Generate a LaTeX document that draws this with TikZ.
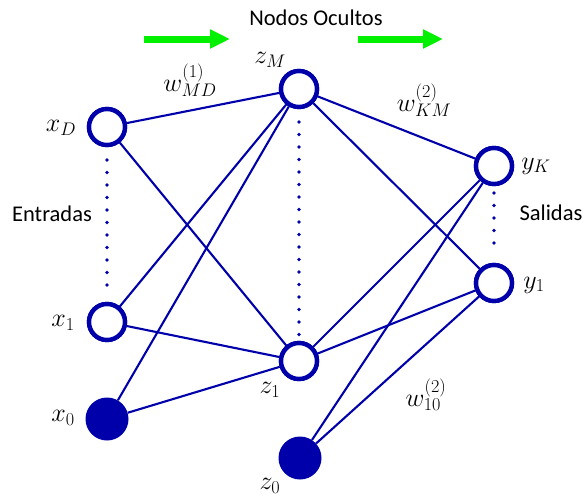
\documentclass[tikz,border=0pt]{standalone}
\usepackage{fix-cm}
\usepackage{fontspec}
\newfontfamily\carl{Carlito}
\usetikzlibrary{arrows.meta}
\definecolor{nblue}{RGB}{0,0,170}
\definecolor{ngreen}{RGB}{0,240,0}
\begin{document}
\begin{tikzpicture}[x=1pt,y=-1pt,
  unit/.style={circle,draw=nblue,line width=4.4pt,fill=white,minimum size=36pt,inner sep=0pt},
  bias/.style={circle,fill=nblue,minimum size=43pt,inner sep=0pt},
  conn/.style={draw=nblue,line width=2.1pt},
  dots/.style={draw=nblue,line width=3.6pt,line cap=round,dash pattern=on 0pt off 12.5pt},
  lab/.style={font=\fontsize{26}{30}\selectfont,inner sep=0pt},
  txt/.style={font=\carl\fontsize{22.5}{26}\selectfont,inner sep=0pt},
  garrow/.style={draw=ngreen,line width=7pt,-{Triangle[length=20pt,width=18pt]}}]
\useasboundingbox (0,0) rectangle (583,498);
% nodes
\node[unit] (xD) at (107,127) {};
\node[unit] (x1) at (107,322) {};
\node[bias] (x0) at (107,419) {};
\node[unit] (zM) at (299,89) {};
\node[unit] (z1) at (299,361) {};
\node[bias] (z0) at (300,458) {};
\node[unit] (yK) at (494,166) {};
\node[unit] (y1) at (494,283) {};
% connectors
\path[conn] (xD) -- (zM);
\path[conn] (xD) -- (z1);
\path[conn] (x1) -- (zM);
\path[conn] (x1) -- (z1);
\path[conn] (x0) -- (zM);
\path[conn] (x0) -- (z1);
\path[conn] (zM) -- (yK);
\path[conn] (zM) -- (y1);
\path[conn] (z1) -- (yK);
\path[conn] (z1) -- (y1);
\path[conn] (z0) -- (yK);
\path[conn] (z0) -- (y1);
% redraw nodes on top
\node[unit] at (xD) {};
\node[unit] at (x1) {};
\node[unit] at (zM) {};
\node[unit] at (z1) {};
\node[unit] at (yK) {};
\node[unit] at (y1) {};
% dotted
\coordinate (dl1) at (107,160); \coordinate (dl2) at (107,290);
\coordinate (dm1) at (299,122); \coordinate (dm2) at (299,335);
\coordinate (dr1) at (494,193); \coordinate (dr2) at (494,252);
\path[dots] (dl1) -- (dl2);
\path[dots] (dm1) -- (dm2);
\path[dots] (dr1) -- (dr2);
% labels
\node[lab] (lxD) at (61,128) {$x_D$};
\node[lab] (lx1) at (63,323) {$x_1$};
\node[lab] (lx0) at (63,418) {$x_0$};
\node[lab] (lzM) at (270,60) {$z_M$};
\node[lab] (lz1) at (270,390) {$z_1$};
\node[lab] (lz0) at (270,486) {$z_0$};
\node[lab] (lyK) at (536,166) {$y_K$};
\node[lab] (ly1) at (534,285) {$y_1$};
\node[lab] (w1) at (190,80) {$w^{(1)}_{MD}$};
\node[lab] (w2) at (424,100) {$w^{(2)}_{KM}$};
\node[lab] (w3) at (426,395) {$w^{(2)}_{10}$};
\node[txt] (ent) at (52,214) {Entradas};
\node[txt] (sal) at (551,213) {Salidas};
\node[txt] (noc) at (316,18) {Nodos Ocultos};
% green arrows
\coordinate (ga1) at (144,39); \coordinate (ga2) at (230,39);
\coordinate (gb1) at (358,39); \coordinate (gb2) at (443,39);
\path[garrow] (ga1) -- (ga2);
\path[garrow] (gb1) -- (gb2);
\end{tikzpicture}
\end{document}
